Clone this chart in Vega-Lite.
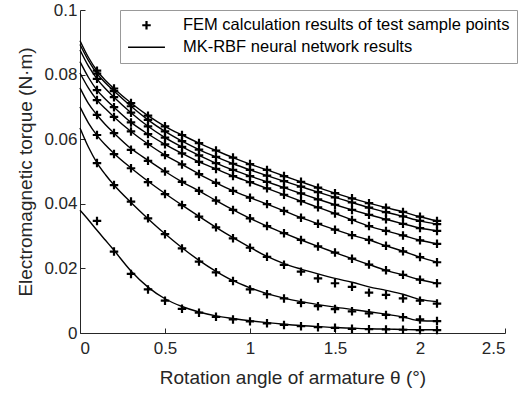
{
  "$schema": "https://vega.github.io/schema/vega-lite/v6.json",
  "autosize": {"type": "none"},
  "padding": {"left": 80, "top": 10, "right": 18, "bottom": 65},
  "width": 425,
  "height": 323,
  "background": "white",
  "config": {
    "view": {"stroke": null},
    "font": "Liberation Sans",
    "axis": {
      "grid": false,
      "domainColor": "#262626",
      "tickColor": "#262626",
      "labelColor": "#262626",
      "titleColor": "#262626",
      "labelFont": "Liberation Sans",
      "titleFont": "Liberation Sans",
      "labelFontSize": 17,
      "titleFontSize": 19,
      "titleFontWeight": "normal",
      "tickSize": -5,
      "domainWidth": 1,
      "tickWidth": 1
    }
  },
  "datasets": {
    "fem": [
      {"c":1,"x":0.1,"y":0.0812},{"c":1,"x":0.2,"y":0.0757},{"c":1,"x":0.3,"y":0.0712},{"c":1,"x":0.4,"y":0.0673},{"c":1,"x":0.5,"y":0.0640},{"c":1,"x":0.6,"y":0.0613},{"c":1,"x":0.7,"y":0.0588},{"c":1,"x":0.8,"y":0.0565},{"c":1,"x":0.9,"y":0.0543},{"c":1,"x":1.0,"y":0.0523},{"c":1,"x":1.1,"y":0.0505},{"c":1,"x":1.2,"y":0.0486},{"c":1,"x":1.3,"y":0.0468},{"c":1,"x":1.4,"y":0.0450},{"c":1,"x":1.5,"y":0.0433},{"c":1,"x":1.6,"y":0.0417},{"c":1,"x":1.7,"y":0.0402},{"c":1,"x":1.8,"y":0.0388},{"c":1,"x":1.9,"y":0.0375},{"c":1,"x":2.0,"y":0.0360},{"c":1,"x":2.1,"y":0.0347},
      {"c":2,"x":0.1,"y":0.0803},{"c":2,"x":0.2,"y":0.0749},{"c":2,"x":0.3,"y":0.0702},{"c":2,"x":0.4,"y":0.0660},{"c":2,"x":0.5,"y":0.0624},{"c":2,"x":0.6,"y":0.0594},{"c":2,"x":0.7,"y":0.0568},{"c":2,"x":0.8,"y":0.0545},{"c":2,"x":0.9,"y":0.0524},{"c":2,"x":1.0,"y":0.0505},{"c":2,"x":1.1,"y":0.0487},{"c":2,"x":1.2,"y":0.0470},{"c":2,"x":1.3,"y":0.0453},{"c":2,"x":1.4,"y":0.0436},{"c":2,"x":1.5,"y":0.0420},{"c":2,"x":1.6,"y":0.0404},{"c":2,"x":1.7,"y":0.0388},{"c":2,"x":1.8,"y":0.0374},{"c":2,"x":1.9,"y":0.0361},{"c":2,"x":2.0,"y":0.0347},{"c":2,"x":2.1,"y":0.0337},
      {"c":3,"x":0.1,"y":0.0787},{"c":3,"x":0.2,"y":0.0730},{"c":3,"x":0.3,"y":0.0682},{"c":3,"x":0.4,"y":0.0640},{"c":3,"x":0.5,"y":0.0605},{"c":3,"x":0.6,"y":0.0576},{"c":3,"x":0.7,"y":0.0550},{"c":3,"x":0.8,"y":0.0526},{"c":3,"x":0.9,"y":0.0505},{"c":3,"x":1.0,"y":0.0486},{"c":3,"x":1.1,"y":0.0468},{"c":3,"x":1.2,"y":0.0450},{"c":3,"x":1.3,"y":0.0432},{"c":3,"x":1.4,"y":0.0414},{"c":3,"x":1.5,"y":0.0397},{"c":3,"x":1.6,"y":0.0381},{"c":3,"x":1.7,"y":0.0366},{"c":3,"x":1.8,"y":0.0352},{"c":3,"x":1.9,"y":0.0338},{"c":3,"x":2.0,"y":0.0325},{"c":3,"x":2.1,"y":0.0316},
      {"c":4,"x":0.1,"y":0.0752},{"c":4,"x":0.2,"y":0.0699},{"c":4,"x":0.3,"y":0.0652},{"c":4,"x":0.4,"y":0.0616},{"c":4,"x":0.5,"y":0.0584},{"c":4,"x":0.6,"y":0.0556},{"c":4,"x":0.7,"y":0.0530},{"c":4,"x":0.8,"y":0.0508},{"c":4,"x":0.9,"y":0.0486},{"c":4,"x":1.0,"y":0.0467},{"c":4,"x":1.1,"y":0.0448},{"c":4,"x":1.2,"y":0.0428},{"c":4,"x":1.3,"y":0.0408},{"c":4,"x":1.4,"y":0.0389},{"c":4,"x":1.5,"y":0.0370},{"c":4,"x":1.6,"y":0.0350},{"c":4,"x":1.7,"y":0.0331},{"c":4,"x":1.8,"y":0.0316},{"c":4,"x":1.9,"y":0.0302},{"c":4,"x":2.0,"y":0.0287},{"c":4,"x":2.1,"y":0.0276},
      {"c":5,"x":0.1,"y":0.0721},{"c":5,"x":0.2,"y":0.0669},{"c":5,"x":0.3,"y":0.0624},{"c":5,"x":0.4,"y":0.0585},{"c":5,"x":0.5,"y":0.0551},{"c":5,"x":0.6,"y":0.0522},{"c":5,"x":0.7,"y":0.0492},{"c":5,"x":0.8,"y":0.0465},{"c":5,"x":0.9,"y":0.0440},{"c":5,"x":1.0,"y":0.0419},{"c":5,"x":1.1,"y":0.0399},{"c":5,"x":1.2,"y":0.0378},{"c":5,"x":1.3,"y":0.0357},{"c":5,"x":1.4,"y":0.0338},{"c":5,"x":1.5,"y":0.0320},{"c":5,"x":1.6,"y":0.0303},{"c":5,"x":1.7,"y":0.0288},{"c":5,"x":1.8,"y":0.0270},{"c":5,"x":1.9,"y":0.0253},{"c":5,"x":2.0,"y":0.0235},{"c":5,"x":2.1,"y":0.0219},
      {"c":6,"x":0.1,"y":0.0675},{"c":6,"x":0.2,"y":0.0619},{"c":6,"x":0.3,"y":0.0567},{"c":6,"x":0.4,"y":0.0533},{"c":6,"x":0.5,"y":0.0500},{"c":6,"x":0.6,"y":0.0468},{"c":6,"x":0.7,"y":0.0440},{"c":6,"x":0.8,"y":0.0410},{"c":6,"x":0.9,"y":0.0381},{"c":6,"x":1.0,"y":0.0355},{"c":6,"x":1.1,"y":0.0331},{"c":6,"x":1.2,"y":0.0309},{"c":6,"x":1.3,"y":0.0288},{"c":6,"x":1.4,"y":0.0268},{"c":6,"x":1.5,"y":0.0249},{"c":6,"x":1.6,"y":0.0230},{"c":6,"x":1.7,"y":0.0212},{"c":6,"x":1.8,"y":0.0194},{"c":6,"x":1.9,"y":0.0180},{"c":6,"x":2.0,"y":0.0165},{"c":6,"x":2.1,"y":0.0154},
      {"c":7,"x":0.1,"y":0.0613},{"c":7,"x":0.2,"y":0.0554},{"c":7,"x":0.3,"y":0.0510},{"c":7,"x":0.4,"y":0.0467},{"c":7,"x":0.5,"y":0.0430},{"c":7,"x":0.6,"y":0.0396},{"c":7,"x":0.7,"y":0.0360},{"c":7,"x":0.8,"y":0.0327},{"c":7,"x":0.9,"y":0.0293},{"c":7,"x":1.0,"y":0.0264},{"c":7,"x":1.1,"y":0.0236},{"c":7,"x":1.2,"y":0.0211},{"c":7,"x":1.3,"y":0.0190},{"c":7,"x":1.4,"y":0.0169},{"c":7,"x":1.5,"y":0.0154},{"c":7,"x":1.6,"y":0.0143},{"c":7,"x":1.7,"y":0.0125},{"c":7,"x":1.8,"y":0.0118},{"c":7,"x":1.9,"y":0.0107},{"c":7,"x":2.0,"y":0.0100},{"c":7,"x":2.1,"y":0.0091},
      {"c":8,"x":0.1,"y":0.0526},{"c":8,"x":0.2,"y":0.0458},{"c":8,"x":0.3,"y":0.0407},{"c":8,"x":0.4,"y":0.0355},{"c":8,"x":0.5,"y":0.0306},{"c":8,"x":0.6,"y":0.0262},{"c":8,"x":0.7,"y":0.0221},{"c":8,"x":0.8,"y":0.0188},{"c":8,"x":0.9,"y":0.0161},{"c":8,"x":1.0,"y":0.0135},{"c":8,"x":1.1,"y":0.0120},{"c":8,"x":1.2,"y":0.0107},{"c":8,"x":1.3,"y":0.0093},{"c":8,"x":1.4,"y":0.0083},{"c":8,"x":1.5,"y":0.0074},{"c":8,"x":1.6,"y":0.0067},{"c":8,"x":1.7,"y":0.0061},{"c":8,"x":1.8,"y":0.0056},{"c":8,"x":1.9,"y":0.0049},{"c":8,"x":2.0,"y":0.0042},{"c":8,"x":2.1,"y":0.0037},
      {"c":9,"x":0.1,"y":0.0347},{"c":9,"x":0.2,"y":0.0252},{"c":9,"x":0.3,"y":0.0183},{"c":9,"x":0.4,"y":0.0135},{"c":9,"x":0.5,"y":0.0100},{"c":9,"x":0.6,"y":0.0075},{"c":9,"x":0.7,"y":0.0063},{"c":9,"x":0.8,"y":0.0050},{"c":9,"x":0.9,"y":0.0042},{"c":9,"x":1.0,"y":0.0036},{"c":9,"x":1.1,"y":0.0030},{"c":9,"x":1.2,"y":0.0025},{"c":9,"x":1.3,"y":0.0021},{"c":9,"x":1.4,"y":0.0018},{"c":9,"x":1.5,"y":0.0016},{"c":9,"x":1.6,"y":0.0013},{"c":9,"x":1.7,"y":0.0012},{"c":9,"x":1.8,"y":0.0011},{"c":9,"x":1.9,"y":0.0010},{"c":9,"x":2.0,"y":0.0009},{"c":9,"x":2.1,"y":0.0009}
    ],
    "nn": [
      {"c":1,"x":0,"y":0.0905},{"c":1,"x":0.05,"y":0.0853},{"c":1,"x":0.1,"y":0.0812},{"c":1,"x":0.15,"y":0.0782},{"c":1,"x":0.2,"y":0.0757},{"c":1,"x":0.3,"y":0.0712},{"c":1,"x":0.4,"y":0.0673},{"c":1,"x":0.5,"y":0.0640},{"c":1,"x":0.6,"y":0.0613},{"c":1,"x":0.7,"y":0.0588},{"c":1,"x":0.8,"y":0.0565},{"c":1,"x":0.9,"y":0.0543},{"c":1,"x":1.0,"y":0.0523},{"c":1,"x":1.1,"y":0.0505},{"c":1,"x":1.2,"y":0.0486},{"c":1,"x":1.3,"y":0.0468},{"c":1,"x":1.4,"y":0.0450},{"c":1,"x":1.5,"y":0.0433},{"c":1,"x":1.6,"y":0.0417},{"c":1,"x":1.7,"y":0.0402},{"c":1,"x":1.8,"y":0.0388},{"c":1,"x":1.9,"y":0.0375},{"c":1,"x":2.0,"y":0.0360},{"c":1,"x":2.1,"y":0.0347},
      {"c":2,"x":0,"y":0.0893},{"c":2,"x":0.05,"y":0.0843},{"c":2,"x":0.1,"y":0.0803},{"c":2,"x":0.15,"y":0.0774},{"c":2,"x":0.2,"y":0.0749},{"c":2,"x":0.3,"y":0.0702},{"c":2,"x":0.4,"y":0.0660},{"c":2,"x":0.5,"y":0.0624},{"c":2,"x":0.6,"y":0.0594},{"c":2,"x":0.7,"y":0.0568},{"c":2,"x":0.8,"y":0.0545},{"c":2,"x":0.9,"y":0.0524},{"c":2,"x":1.0,"y":0.0505},{"c":2,"x":1.1,"y":0.0487},{"c":2,"x":1.2,"y":0.0470},{"c":2,"x":1.3,"y":0.0453},{"c":2,"x":1.4,"y":0.0436},{"c":2,"x":1.5,"y":0.0420},{"c":2,"x":1.6,"y":0.0404},{"c":2,"x":1.7,"y":0.0388},{"c":2,"x":1.8,"y":0.0374},{"c":2,"x":1.9,"y":0.0361},{"c":2,"x":2.0,"y":0.0347},{"c":2,"x":2.1,"y":0.0337},
      {"c":3,"x":0,"y":0.0876},{"c":3,"x":0.05,"y":0.0826},{"c":3,"x":0.1,"y":0.0787},{"c":3,"x":0.15,"y":0.0756},{"c":3,"x":0.2,"y":0.0730},{"c":3,"x":0.3,"y":0.0682},{"c":3,"x":0.4,"y":0.0640},{"c":3,"x":0.5,"y":0.0605},{"c":3,"x":0.6,"y":0.0576},{"c":3,"x":0.7,"y":0.0550},{"c":3,"x":0.8,"y":0.0526},{"c":3,"x":0.9,"y":0.0505},{"c":3,"x":1.0,"y":0.0486},{"c":3,"x":1.1,"y":0.0468},{"c":3,"x":1.2,"y":0.0450},{"c":3,"x":1.3,"y":0.0432},{"c":3,"x":1.4,"y":0.0414},{"c":3,"x":1.5,"y":0.0397},{"c":3,"x":1.6,"y":0.0381},{"c":3,"x":1.7,"y":0.0366},{"c":3,"x":1.8,"y":0.0352},{"c":3,"x":1.9,"y":0.0338},{"c":3,"x":2.0,"y":0.0325},{"c":3,"x":2.1,"y":0.0316},
      {"c":4,"x":0,"y":0.0840},{"c":4,"x":0.05,"y":0.0791},{"c":4,"x":0.1,"y":0.0752},{"c":4,"x":0.15,"y":0.0724},{"c":4,"x":0.2,"y":0.0699},{"c":4,"x":0.3,"y":0.0652},{"c":4,"x":0.4,"y":0.0616},{"c":4,"x":0.5,"y":0.0584},{"c":4,"x":0.6,"y":0.0556},{"c":4,"x":0.7,"y":0.0530},{"c":4,"x":0.8,"y":0.0508},{"c":4,"x":0.9,"y":0.0486},{"c":4,"x":1.0,"y":0.0467},{"c":4,"x":1.1,"y":0.0448},{"c":4,"x":1.2,"y":0.0428},{"c":4,"x":1.3,"y":0.0408},{"c":4,"x":1.4,"y":0.0389},{"c":4,"x":1.5,"y":0.0370},{"c":4,"x":1.6,"y":0.0350},{"c":4,"x":1.7,"y":0.0331},{"c":4,"x":1.8,"y":0.0316},{"c":4,"x":1.9,"y":0.0302},{"c":4,"x":2.0,"y":0.0287},{"c":4,"x":2.1,"y":0.0276},
      {"c":5,"x":0,"y":0.0805},{"c":5,"x":0.05,"y":0.0758},{"c":5,"x":0.1,"y":0.0721},{"c":5,"x":0.15,"y":0.0694},{"c":5,"x":0.2,"y":0.0669},{"c":5,"x":0.3,"y":0.0624},{"c":5,"x":0.4,"y":0.0585},{"c":5,"x":0.5,"y":0.0551},{"c":5,"x":0.6,"y":0.0522},{"c":5,"x":0.7,"y":0.0492},{"c":5,"x":0.8,"y":0.0465},{"c":5,"x":0.9,"y":0.0440},{"c":5,"x":1.0,"y":0.0419},{"c":5,"x":1.1,"y":0.0399},{"c":5,"x":1.2,"y":0.0378},{"c":5,"x":1.3,"y":0.0357},{"c":5,"x":1.4,"y":0.0338},{"c":5,"x":1.5,"y":0.0320},{"c":5,"x":1.6,"y":0.0303},{"c":5,"x":1.7,"y":0.0288},{"c":5,"x":1.8,"y":0.0270},{"c":5,"x":1.9,"y":0.0253},{"c":5,"x":2.0,"y":0.0235},{"c":5,"x":2.1,"y":0.0219},
      {"c":6,"x":0,"y":0.0759},{"c":6,"x":0.05,"y":0.0710},{"c":6,"x":0.1,"y":0.0675},{"c":6,"x":0.15,"y":0.0645},{"c":6,"x":0.2,"y":0.0619},{"c":6,"x":0.3,"y":0.0571},{"c":6,"x":0.4,"y":0.0535},{"c":6,"x":0.5,"y":0.0500},{"c":6,"x":0.6,"y":0.0468},{"c":6,"x":0.7,"y":0.0440},{"c":6,"x":0.8,"y":0.0410},{"c":6,"x":0.9,"y":0.0381},{"c":6,"x":1.0,"y":0.0355},{"c":6,"x":1.1,"y":0.0331},{"c":6,"x":1.2,"y":0.0309},{"c":6,"x":1.3,"y":0.0288},{"c":6,"x":1.4,"y":0.0268},{"c":6,"x":1.5,"y":0.0249},{"c":6,"x":1.6,"y":0.0230},{"c":6,"x":1.7,"y":0.0212},{"c":6,"x":1.8,"y":0.0194},{"c":6,"x":1.9,"y":0.0180},{"c":6,"x":2.0,"y":0.0165},{"c":6,"x":2.1,"y":0.0154},
      {"c":7,"x":0,"y":0.0700},{"c":7,"x":0.05,"y":0.0650},{"c":7,"x":0.1,"y":0.0612},{"c":7,"x":0.15,"y":0.0582},{"c":7,"x":0.2,"y":0.0556},{"c":7,"x":0.3,"y":0.0511},{"c":7,"x":0.4,"y":0.0470},{"c":7,"x":0.5,"y":0.0432},{"c":7,"x":0.6,"y":0.0396},{"c":7,"x":0.7,"y":0.0361},{"c":7,"x":0.8,"y":0.0327},{"c":7,"x":0.9,"y":0.0295},{"c":7,"x":1.0,"y":0.0265},{"c":7,"x":1.1,"y":0.0237},{"c":7,"x":1.2,"y":0.0215},{"c":7,"x":1.3,"y":0.0198},{"c":7,"x":1.4,"y":0.0183},{"c":7,"x":1.5,"y":0.0169},{"c":7,"x":1.6,"y":0.0157},{"c":7,"x":1.7,"y":0.0143},{"c":7,"x":1.8,"y":0.0132},{"c":7,"x":1.9,"y":0.0120},{"c":7,"x":2.0,"y":0.0104},{"c":7,"x":2.1,"y":0.0097},
      {"c":8,"x":0,"y":0.0635},{"c":8,"x":0.05,"y":0.0575},{"c":8,"x":0.1,"y":0.0527},{"c":8,"x":0.15,"y":0.0490},{"c":8,"x":0.2,"y":0.0458},{"c":8,"x":0.3,"y":0.0404},{"c":8,"x":0.4,"y":0.0354},{"c":8,"x":0.5,"y":0.0307},{"c":8,"x":0.6,"y":0.0264},{"c":8,"x":0.7,"y":0.0225},{"c":8,"x":0.8,"y":0.0191},{"c":8,"x":0.9,"y":0.0162},{"c":8,"x":1.0,"y":0.0140},{"c":8,"x":1.1,"y":0.0122},{"c":8,"x":1.2,"y":0.0108},{"c":8,"x":1.3,"y":0.0097},{"c":8,"x":1.4,"y":0.0088},{"c":8,"x":1.5,"y":0.0080},{"c":8,"x":1.6,"y":0.0073},{"c":8,"x":1.7,"y":0.0066},{"c":8,"x":1.8,"y":0.0058},{"c":8,"x":1.9,"y":0.0050},{"c":8,"x":2.0,"y":0.0038},{"c":8,"x":2.1,"y":0.0037},
      {"c":9,"x":0,"y":0.0380},{"c":9,"x":0.05,"y":0.0350},{"c":9,"x":0.1,"y":0.0318},{"c":9,"x":0.15,"y":0.0287},{"c":9,"x":0.2,"y":0.0256},{"c":9,"x":0.3,"y":0.0192},{"c":9,"x":0.4,"y":0.0142},{"c":9,"x":0.5,"y":0.0106},{"c":9,"x":0.6,"y":0.0082},{"c":9,"x":0.7,"y":0.0065},{"c":9,"x":0.8,"y":0.0053},{"c":9,"x":0.9,"y":0.0045},{"c":9,"x":1.0,"y":0.0038},{"c":9,"x":1.1,"y":0.0032},{"c":9,"x":1.2,"y":0.0027},{"c":9,"x":1.3,"y":0.0023},{"c":9,"x":1.4,"y":0.0020},{"c":9,"x":1.5,"y":0.0017},{"c":9,"x":1.6,"y":0.0015},{"c":9,"x":1.7,"y":0.0013},{"c":9,"x":1.8,"y":0.0012},{"c":9,"x":1.9,"y":0.0011},{"c":9,"x":2.0,"y":0.0010},{"c":9,"x":2.1,"y":0.0010}
    ]
  },
  "encoding": {
    "x": {
      "field": "x", "type": "quantitative",
      "scale": {"domain": [0, 2.5], "nice": false, "zero": false},
      "axis": {"values": [0, 0.5, 1, 1.5, 2, 2.5], "format": "~g", "title": "Rotation angle of armature θ (°)", "labelPadding": 12, "titlePadding": 12}
    },
    "y": {
      "field": "y", "type": "quantitative",
      "scale": {"domain": [0, 0.1], "nice": false},
      "axis": {"values": [0, 0.02, 0.04, 0.06, 0.08, 0.1], "format": "~g", "title": "Electromagnetic torque (N·m)", "labelPadding": 8, "titlePadding": 8}
    }
  },
  "layer": [
    {
      "data": {"name": "nn"},
      "mark": {"type": "line", "interpolate": "monotone", "color": "black", "strokeWidth": 1.4},
      "encoding": {"detail": {"field": "c", "type": "nominal"}}
    },
    {
      "data": {"name": "fem"},
      "mark": {"type": "point", "filled": true, "color": "black", "strokeWidth": 0, "size": 72, "opacity": 1},
      "encoding": {
        "shape": {
          "datum": "FEM calculation results of test sample points",
          "scale": {
            "domain": ["FEM calculation results of test sample points", "MK-RBF neural network results"],
            "range": ["M-1,-0.26H-0.26V-1H0.26V-0.26H1V0.26H0.26V1H-0.26V0.26H-1Z", "M-4.35,-0.17H4.35V0.17H-4.35Z"]
          },
          "legend": {
            "title": null,
            "orient": "none",
            "legendX": 40,
            "legendY": 0,
            "padding": 7,
            "symbolSize": 72,
            "symbolFillColor": "black",
            "symbolStrokeWidth": 0,
            "symbolOpacity": 1,
            "symbolOffset": 11.25,
            "labelOffset": 28.2,
            "labelFont": "Liberation Sans",
            "labelFontSize": 16.5,
            "labelColor": "black",
            "labelLimit": 0,
            "rowPadding": 5,
            "strokeColor": "#999999",
            "fillColor": "white",
            "cornerRadius": 0
          }
        }
      }
    }
  ]
}
